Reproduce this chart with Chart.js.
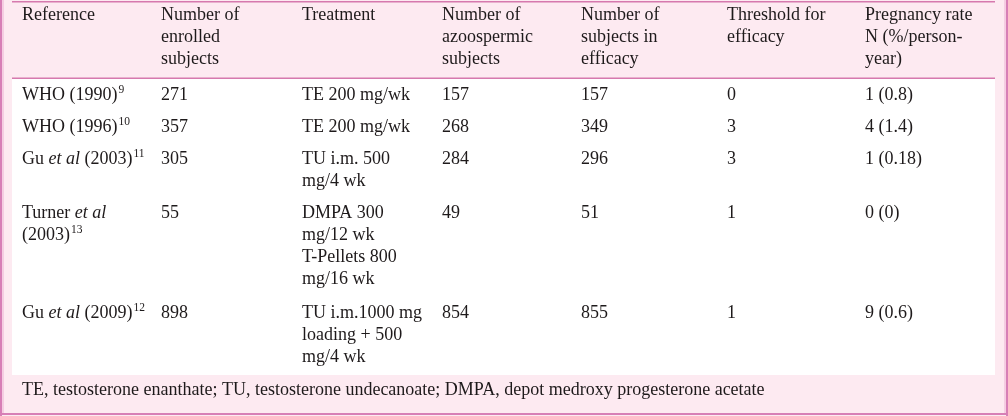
<!DOCTYPE html>
<html>
<head>
<meta charset="utf-8">
<script src="https://cdn.jsdelivr.net/npm/chart.js@4"></script>
<style>
  html, body { margin: 0; padding: 0; background: #fdeaf1; }
  #table { display: block; }
</style>
</head>
<body>
<canvas id="table" width="1008" height="416"></canvas>
<script>
// table content
const headers = [
  ["Reference"],
  ["Number of", "enrolled", "subjects"],
  ["Treatment"],
  ["Number of", "azoospermic", "subjects"],
  ["Number of", "subjects in", "efficacy"],
  ["Threshold for", "efficacy"],
  ["Pregnancy rate", "N (%/person-", "year)"]
];
const references = [
  ["WHO (1990)<sup>9</sup>"],
  ["WHO (1996)<sup>10</sup>"],
  ["Gu <i>et al</i> (2003)<sup>11</sup>"],
  ["Turner <i>et al</i>", "(2003)<sup>13</sup>"],
  ["Gu <i>et al</i> (2009)<sup>12</sup>"]
];
const enrolled = [271, 357, 305, 55, 898];
const treatments = [
  ["TE 200 mg/wk"],
  ["TE 200 mg/wk"],
  ["TU i.m. 500", "mg/4 wk"],
  ["DMPA 300", "mg/12 wk", "T-Pellets 800", "mg/16 wk"],
  ["TU i.m.1000 mg", "loading + 500", "mg/4 wk"]
];
const azoospermic = [157, 268, 284, 49, 854];
const efficacySubjects = [157, 349, 296, 51, 855];
const thresholds = [0, 3, 3, 1, 1];
const pregnancy = ["1 (0.8)", "4 (1.4)", "1 (0.18)", "0 (0)", "9 (0.6)"];
const footnote = "TE, testosterone enanthate; TU, testosterone undecanoate; DMPA, depot medroxy progesterone acetate";

// layout (pixels in the 1008 x 416 frame)
const colX = [22, 161, 302, 442, 581, 727, 865];
const headerY = 15;
const rowY = [95, 127, 159, 213, 313];
const footY = 390;
const lineH = 22;
const fontSize = 18;
const fontFam = "'Liberation Serif', 'Times New Roman', serif";
const textColor = "#1e1a1b";

const columns = [
  references,
  enrolled.map(v => [String(v)]),
  treatments,
  azoospermic.map(v => [String(v)]),
  efficacySubjects.map(v => [String(v)]),
  thresholds.map(v => [String(v)]),
  pregnancy.map(v => [v])
];

const datasets = columns.map((col, c) => ({
  label: headers[c].join(" "),
  cells: [headers[c]].concat(col),
  data: [{ x: colX[c], y: headerY }].concat(rowY.map(y => ({ x: colX[c], y: y }))),
  pointRadius: 0,
  showLine: false
}));
datasets.push({
  label: "footnote",
  cells: [[footnote]],
  data: [{ x: colX[0], y: footY }],
  pointRadius: 0
});

function drawRich(ctx, str, x, y) {
  const parts = str.split(/(<i>.*?<\/i>|<sup>.*?<\/sup>)/).filter(s => s.length);
  parts.forEach(p => {
    let txt = p, font = fontSize + "px " + fontFam, dy = 0;
    if (p.startsWith("<i>")) {
      txt = p.slice(3, -4);
      font = "italic " + fontSize + "px " + fontFam;
    } else if (p.startsWith("<sup>")) {
      txt = p.slice(5, -6);
      font = (fontSize * 0.64) + "px " + fontFam;
      dy = -5;
      x += 1;
    }
    ctx.font = font;
    ctx.fillText(txt, x, y + dy);
    x += ctx.measureText(txt).width;
  });
}

const tablePlugin = {
  id: "tablePlugin",
  beforeDraw(chart) {
    const ctx = chart.ctx;
    const sx = chart.scales.x, sy = chart.scales.y;
    const px = v => sx.getPixelForValue(v);
    const py = v => sy.getPixelForValue(v);
    ctx.save();
    // pink background
    ctx.fillStyle = "#fdeaf1";
    ctx.fillRect(px(0), py(0), px(1008) - px(0), py(416) - py(0));
    // white body
    ctx.fillStyle = "#ffffff";
    ctx.fillRect(px(12), py(79), px(995) - px(12), py(375) - py(79));
    // lines
    ctx.fillStyle = "#d679ae";
    ctx.fillRect(px(12), py(1), px(995) - px(12), 1.5);
    ctx.fillRect(px(12), py(77.5), px(995) - px(12), 1.5);
    // outer frame
    ctx.fillStyle = "#d77fb6";
    ctx.fillRect(px(0), py(0), 2, py(416) - py(0));
    ctx.fillRect(px(1006), py(0), 2, py(416) - py(0));
    ctx.fillRect(px(0), py(413), px(1008) - px(0), 2);
    ctx.fillStyle = "#f5cde2";
    ctx.fillRect(px(2), py(0), 2, py(413) - py(0));
    ctx.fillRect(px(1004), py(0), 2, py(413) - py(0));
    ctx.restore();
  },
  afterDatasetsDraw(chart) {
    const ctx = chart.ctx;
    ctx.save();
    ctx.fillStyle = textColor;
    ctx.textBaseline = "middle";
    ctx.textAlign = "left";
    chart.data.datasets.forEach((ds, i) => {
      const meta = chart.getDatasetMeta(i);
      meta.data.forEach((pt, r) => {
        ds.cells[r].forEach((line, k) => {
          drawRich(ctx, line, pt.x, pt.y + k * lineH);
        });
      });
    });
    ctx.restore();
  }
};

new Chart(document.getElementById("table"), {
  type: "scatter",
  data: { datasets: datasets },
  options: {
    responsive: false,
    animation: false,
    devicePixelRatio: 1,
    layout: { padding: 0 },
    plugins: { legend: { display: false }, tooltip: { enabled: false } },
    scales: {
      x: { type: "linear", min: 0, max: 1008, display: false },
      y: { type: "linear", min: 0, max: 416, reverse: true, display: false }
    }
  },
  plugins: [tablePlugin]
});
</script>
</body>
</html>
